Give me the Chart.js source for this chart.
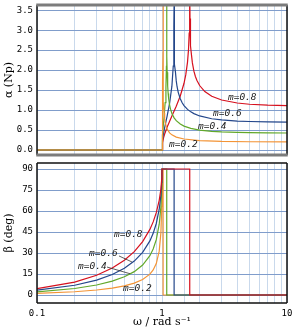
<!DOCTYPE html>
<html>
<head>
<meta charset="utf-8">
<script src="https://cdn.jsdelivr.net/npm/chart.js@4"></script>
<style>
html, body { margin: 0; padding: 0; background: #fff; }
#wrap { position: relative; width: 300px; height: 330px; }
canvas { position: absolute; left: 0; }
</style>
</head>
<body>
<div id="wrap">
  <canvas id="alphaChart" width="300" height="160" style="top:0"></canvas>
  <canvas id="betaChart" width="300" height="170" style="top:160px"></canvas>
</div>
<script>
// series names
const mNames = ['m=0.2', 'm=0.4', 'm=0.6', 'm=0.8'];
const colors = ['#f39436', '#62a82a', '#23468a', '#d6101e'];

// attenuation alpha (Np) vs omega, one pair of arrays per m
const wAlpha02 = [0.1, 1, 1.002, 1.005, 1.01, 1.015, 1.018, 1.02, 1.0205, 1.0206, 1.02065, 1.021, 1.022, 1.025, 1.03, 1.04, 1.05, 1.06, 1.08, 1.1, 1.15, 1.2, 1.3, 1.5, 2, 3, 5, 10];
const alpha02  = [0, 0, 0.327, 0.547, 0.871, 1.280, 1.706, 2.452, 3.276, 4.16, 3.99, 2.711, 2.078, 1.534, 1.204, 0.925, 0.786, 0.698, 0.590, 0.523, 0.430, 0.379, 0.324, 0.275, 0.235, 0.215, 0.207, 0.204];
const wAlpha04 = [0.1, 1, 1.005, 1.01, 1.02, 1.04, 1.06, 1.075, 1.085, 1.089, 1.0907, 1.091, 1.0912, 1.093, 1.095, 1.1, 1.11, 1.12, 1.13, 1.15, 1.17, 1.2, 1.25, 1.3, 1.4, 1.5, 1.7, 2, 2.5, 3, 4, 5, 7, 10];
const alpha04  = [0, 0, 0.254, 0.367, 0.540, 0.842, 1.186, 1.573, 2.092, 2.640, 3.485, 4.222, 4.116, 2.697, 2.345, 1.948, 1.600, 1.413, 1.289, 1.127, 1.022, 0.915, 0.805, 0.735, 0.650, 0.599, 0.542, 0.500, 0.468, 0.453, 0.439, 0.434, 0.429, 0.426];
const wAlpha06 = [0.1, 1, 1.01, 1.025, 1.05, 1.1, 1.15, 1.2, 1.23, 1.24, 1.247, 1.249, 1.2497, 1.2503, 1.253, 1.26, 1.27, 1.28, 1.3, 1.32, 1.35, 1.4, 1.45, 1.5, 1.6, 1.7, 1.8, 2, 2.5, 3, 4, 5, 7, 10];
const alpha06  = [0, 0, 0.238, 0.384, 0.560, 0.856, 1.166, 1.598, 2.100, 2.460, 3.071, 3.623, 4.226, 4.227, 3.079, 2.486, 2.152, 1.962, 1.730, 1.584, 1.437, 1.283, 1.184, 1.113, 1.017, 0.955, 0.911, 0.853, 0.783, 0.752, 0.725, 0.713, 0.703, 0.698];
const wAlpha08 = [0.1, 1, 1.01, 1.03, 1.05, 1.1, 1.2, 1.3, 1.4, 1.5, 1.55, 1.6, 1.63, 1.65, 1.66, 1.665, 1.668, 1.675, 1.68, 1.69, 1.7, 1.72, 1.75, 1.8, 1.85, 1.9, 2, 2.2, 2.5, 3, 4, 5, 7, 10];
const alpha08  = [0, 0, 0.177, 0.309, 0.401, 0.577, 0.850, 1.095, 1.353, 1.671, 1.886, 2.201, 2.519, 2.926, 3.391, 4.087, 4.20, 3.289, 3.057, 2.783, 2.611, 2.387, 2.181, 1.974, 1.841, 1.746, 1.614, 1.463, 1.345, 1.251, 1.176, 1.146, 1.122, 1.110];

// phase beta (deg) vs omega
const wBeta02 = [0.1, 0.2, 0.3, 0.4, 0.5, 0.6, 0.7, 0.8, 0.85, 0.9, 0.95, 0.98, 0.995, 0.999, 1, 1.0206, 1.0206, 10];
const beta02  = [1.15, 2.34, 3.60, 4.99, 6.59, 8.53, 11.09, 14.93, 17.89, 22.44, 31.32, 44.57, 63.33, 77.39, 90, 90, 0, 0];
const wBeta04 = [0.1, 0.2, 0.3, 0.4, 0.5, 0.6, 0.7, 0.8, 0.85, 0.9, 0.95, 0.98, 0.995, 0.999, 1, 1.0911, 1.0911, 10];
const beta04  = [2.30, 4.67, 7.17, 9.90, 13.00, 16.70, 21.41, 28.07, 32.84, 39.55, 50.59, 63.08, 75.92, 83.61, 90, 90, 0, 0];
const wBeta06 = [0.1, 0.2, 0.3, 0.4, 0.5, 0.6, 0.7, 0.8, 0.85, 0.9, 0.95, 0.98, 0.995, 0.999, 1, 1.25, 1.25, 10];
const beta06  = [3.45, 6.98, 10.69, 14.67, 19.11, 24.23, 30.46, 38.66, 44.07, 51.09, 61.29, 71.30, 80.50, 85.73, 90, 90, 0, 0];
const wBeta08 = [0.1, 0.2, 0.3, 0.4, 0.5, 0.6, 0.7, 0.8, 0.85, 0.9, 0.95, 0.98, 0.995, 0.999, 1, 1.6667, 1.6667, 10];
const beta08  = [4.60, 9.27, 14.12, 19.25, 24.79, 30.96, 38.10, 46.85, 52.24, 58.82, 67.66, 75.75, 82.85, 86.80, 90, 90, 0, 0];

// tick labels
const xTickLabels = ['0.1', '1', '10'];
const alphaTicks = [0, 0.5, 1, 1.5, 2, 2.5, 3, 3.5];
const betaTicks = [0, 15, 30, 45, 60, 75, 90];

// curve labels: [omega, value] of the label's left-middle point
const alphaLabelPos = [[1.14, 0.125], [1.94, 0.60], [2.56, 0.925], [3.37, 1.325]];
const betaLabelPos = [[0.488, 4.3], [0.213, 20.7], [0.261, 29.3], [0.413, 42.9]];
// leader lines for two of the beta labels: [w1, b1, w2, b2]
const betaLeaders = [[0.363, 20.0, 0.555, 15.2], [0.453, 27.9, 0.575, 23.6]];

const monoFont = { family: 'DejaVu Sans Mono', size: 9 };
const serifFont = { family: 'DejaVu Serif', size: 11 };

function pts(xs, ys) {
    return xs.map((x, i) => ({ x: x, y: ys[i] }));
}

function isDecade(v) {
    const l = Math.log10(v);
    return Math.abs(l - Math.round(l)) < 1e-6;
}

function makeDatasets(xsList, ysList, orders) {
    return xsList.map((xs, i) => ({
        label: mNames[i],
        data: pts(xs, ysList[i]),
        borderColor: colors[i],
        borderWidth: 1.2,
        pointRadius: 0,
        tension: 0,
        fill: false,
        order: orders[i]
    }));
}

function framePlugin(style) {
    return {
        id: 'frame',
        afterDatasetsDraw(chart) {
            const a = chart.chartArea;
            const ctx = chart.ctx;
            const xs = chart.scales.x, ys = chart.scales.y;
            ctx.save();
            // curve labels
            ctx.font = 'italic 9.5px "DejaVu Sans Mono"';
            ctx.fillStyle = '#222';
            ctx.textBaseline = 'middle';
            style.labels.forEach((p, i) => {
                ctx.fillText(mNames[i], xs.getPixelForValue(p[0]), ys.getPixelForValue(p[1]));
            });
            ctx.strokeStyle = '#333';
            ctx.lineWidth = 0.8;
            (style.leaders || []).forEach(l => {
                ctx.beginPath();
                ctx.moveTo(xs.getPixelForValue(l[0]), ys.getPixelForValue(l[1]));
                ctx.lineTo(xs.getPixelForValue(l[2]), ys.getPixelForValue(l[3]));
                ctx.stroke();
            });
            // frame
            ctx.lineWidth = 1.5;
            ctx.strokeStyle = '#111';
            ctx.beginPath();
            ctx.moveTo(a.left, a.top); ctx.lineTo(a.left, a.bottom);
            ctx.moveTo(a.right, a.top); ctx.lineTo(a.right, a.bottom);
            if (!style.grayEdges) {
                ctx.moveTo(a.left, a.top); ctx.lineTo(a.right, a.top);
                ctx.moveTo(a.left, a.bottom); ctx.lineTo(a.right, a.bottom);
            }
            ctx.stroke();
            if (style.grayEdges) {
                ctx.lineWidth = 3;
                ctx.strokeStyle = '#7c7c7c';
                ctx.beginPath();
                ctx.moveTo(a.left - 0.75, a.top); ctx.lineTo(a.right + 0.75, a.top);
                ctx.moveTo(a.left - 0.75, a.bottom); ctx.lineTo(a.right + 0.75, a.bottom);
                ctx.stroke();
            }
            ctx.restore();
        }
    };
}

function xAxis(showTicks, height) {
    return {
        type: 'logarithmic',
        min: 0.1,
        max: 10,
        afterFit: s => {
            s.height = height;
            s.paddingLeft = 0; s.paddingRight = 0;
        },
        border: { display: false },
        grid: { color: '#c9d9ec', lineWidth: 1, drawTicks: false },
        ticks: {
            display: showTicks,
            autoSkip: false,
            maxRotation: 0,
            padding: 5,
            color: '#000',
            font: monoFont,
            callback: v => isDecade(v) ? xTickLabels[Math.round(Math.log10(v)) + 1] : ''
        },
        title: showTicks ? {
            display: true,
            text: 'ω / rad s⁻¹',
            color: '#000',
            font: serifFont,
            padding: { top: 0, bottom: 1 }
        } : { display: false }
    };
}

function yAxis(min, max, ticks, title, fmt) {
    return {
        min: min,
        max: max,
        afterFit: s => {
            s.width = 37;
            s.paddingTop = 0; s.paddingBottom = 0;
        },
        afterBuildTicks: s => { s.ticks = ticks.map(v => ({ value: v })); },
        border: { display: false },
        grid: { color: '#809dcb', lineWidth: 1, drawTicks: false },
        ticks: { padding: 4, color: '#000', font: monoFont, callback: fmt },
        title: { display: true, text: title, color: '#000', font: serifFont, padding: { top: 3, bottom: 0 } }
    };
}

Chart.defaults.animation = false;

new Chart(document.getElementById('alphaChart'), {
    type: 'line',
    data: {
        datasets: makeDatasets([wAlpha02, wAlpha04, wAlpha06, wAlpha08], [alpha02, alpha04, alpha06, alpha08], [0, 1, 2, 3])
    },
    options: {
        responsive: false,
        devicePixelRatio: 1,
        layout: { padding: { top: 5, right: 13, left: 0, bottom: 0 } },
        plugins: { legend: { display: false }, tooltip: { enabled: false } },
        scales: {
            x: xAxis(false, 5),
            y: yAxis(-0.125, 3.63, alphaTicks, 'α (Np)', v => v.toFixed(1))
        }
    },
    plugins: [framePlugin({ grayEdges: true, labels: alphaLabelPos })]
});

new Chart(document.getElementById('betaChart'), {
    type: 'line',
    data: {
        datasets: makeDatasets([wBeta02, wBeta04, wBeta06, wBeta08], [beta02, beta04, beta06, beta08], [3, 2, 1, 0])
    },
    options: {
        responsive: false,
        devicePixelRatio: 1,
        layout: { padding: { top: 3, right: 13, left: 0, bottom: 0 } },
        plugins: { legend: { display: false }, tooltip: { enabled: false } },
        scales: {
            x: xAxis(true, 27),
            y: yAxis(-5.7, 94.3, betaTicks, 'β (deg)', v => String(v))
        }
    },
    plugins: [framePlugin({ grayEdges: false, labels: betaLabelPos, leaders: betaLeaders })]
});
</script>
</body>
</html>
